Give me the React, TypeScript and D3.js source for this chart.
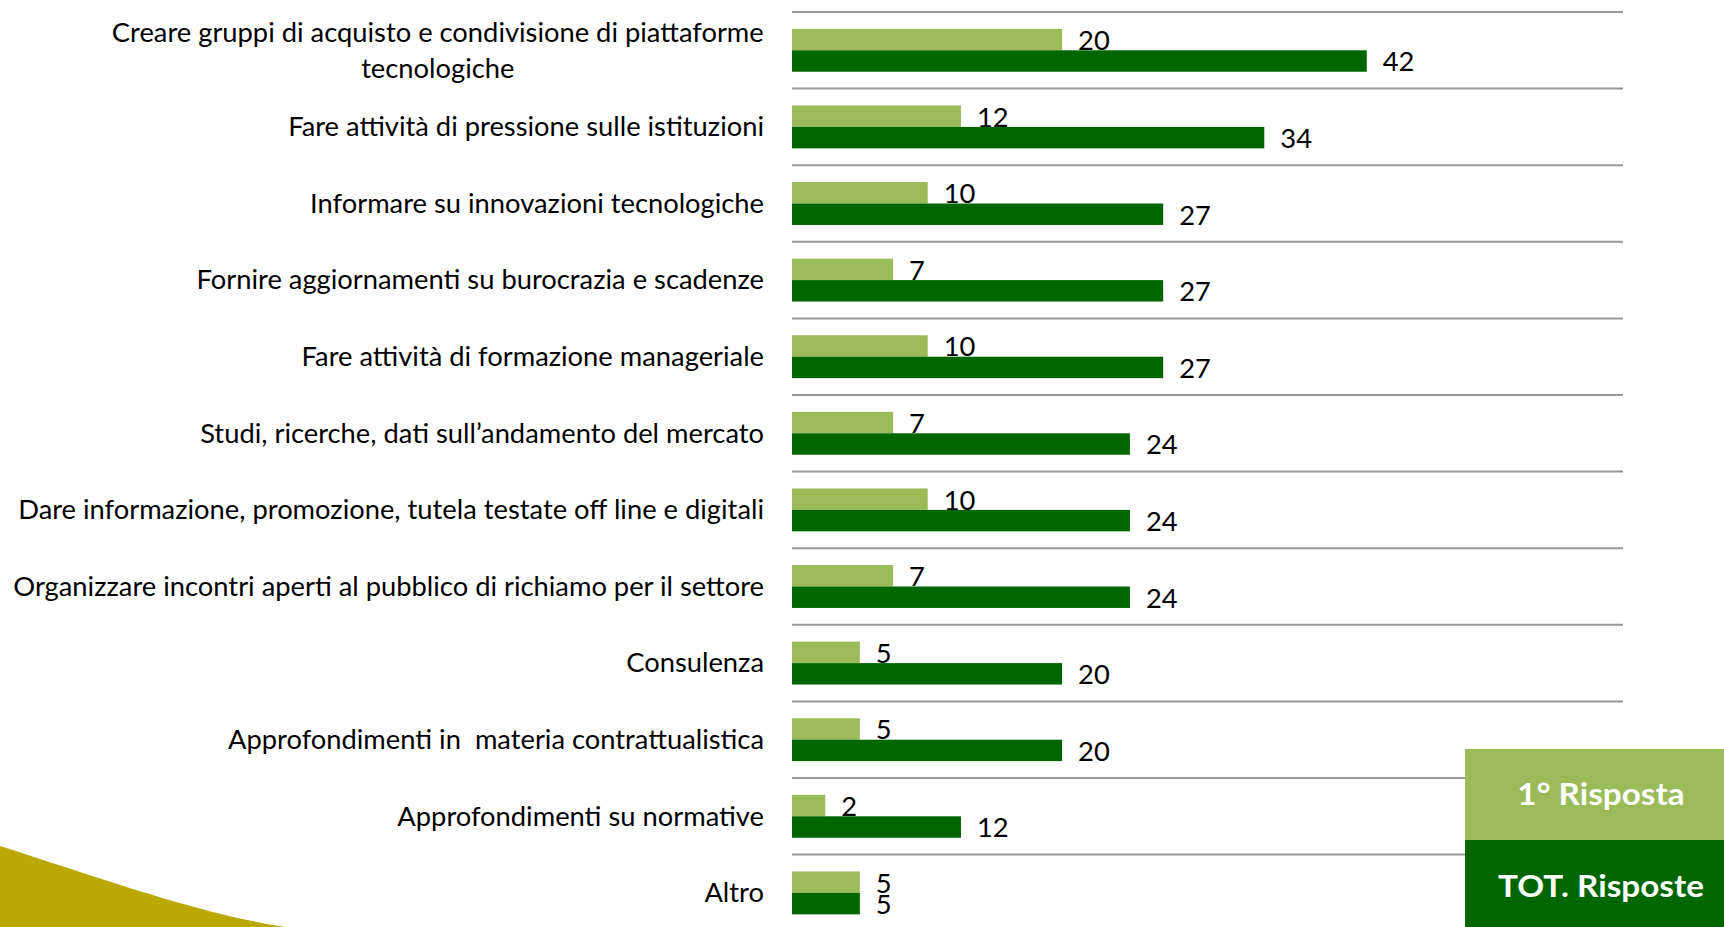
import React, { useEffect, useRef } from "react";
import * as d3 from "d3";

const categories: string[][] = [
  ["Creare gruppi di acquisto e condivisione di piattaforme", "tecnologiche"],
  ["Fare attività di pressione sulle istituzioni"],
  ["Informare su innovazioni tecnologiche"],
  ["Fornire aggiornamenti su burocrazia e scadenze"],
  ["Fare attività di formazione manageriale"],
  ["Studi, ricerche, dati sull’andamento del mercato"],
  ["Dare informazione, promozione, tutela testate off line e digitali"],
  ["Organizzare incontri aperti al pubblico di richiamo per il settore"],
  ["Consulenza"],
  ["Approfondimenti in  materia contrattualistica"],
  ["Approfondimenti su normative"],
  ["Altro"],
];

const firstAnswer: number[] = [19.5, 12.2, 9.8, 7.3, 9.8, 7.3, 9.8, 7.3, 4.9, 4.9, 2.4, 4.9];
const totalAnswers: number[] = [41.5, 34.1, 26.8, 26.8, 26.8, 24.4, 24.4, 24.4, 19.5, 19.5, 12.2, 4.9];

const seriesNames = ["1° Risposta", "TOT. Risposte"];
const seriesColors = ["#9BBB59", "#006600"];
const xDomainMax = 60;

const W = 1724;
const H = 927;
const FONT = "Lato, 'Open Sans', 'DejaVu Sans', sans-serif";

export default function App() {
  const ref = useRef<SVGSVGElement | null>(null);

  useEffect(() => {
    const svg = d3.select(ref.current);
    svg.selectAll("*").remove();

    const measure = (txt: string, size: number, weight: string) => {
      const p = svg
        .append("text")
        .attr("font-family", FONT)
        .attr("font-size", size)
        .attr("font-weight", weight)
        .style("white-space", "pre")
        .text(txt);
      const w = (p.node() as SVGTextElement).getComputedTextLength();
      p.remove();
      return w;
    };

    // calibrate horizontal condensing to mimic the reference (Calibri) widths
    const pw = measure("Approfondimenti su normative", 26, "normal");
    const fx = pw > 0 ? 367 / pw : 1;
    const pw2 = measure("TOT. Risposte", 30, "bold");
    const fxL = pw2 > 0 ? 206 / pw2 : 1;

    const keys = categories.map((_, i) => String(i));
    const x = d3.scaleLinear().domain([0, xDomainMax]).range([792, 1623]);
    const y = d3
      .scaleBand<string>()
      .domain(keys)
      .range([12, 12 + 76.6 * keys.length])
      .paddingInner(0.44)
      .paddingOuter(0.22);
    const ys = d3.scaleBand<string>().domain(["0", "1"]).range([0, y.bandwidth()]);
    const po = y.paddingOuter() * y.step();

    // decorative shape bottom-left
    svg
      .append("path")
      .attr("d", "M0,846 C100,878 200,914 285,927 L0,927 Z")
      .attr("fill", "#BBA800");

    // gridlines at top of each category band
    svg
      .append("g")
      .selectAll("line")
      .data(keys)
      .join("line")
      .attr("x1", x(0))
      .attr("x2", x(xDomainMax))
      .attr("y1", (k) => (y(k) as number) - po)
      .attr("y2", (k) => (y(k) as number) - po)
      .attr("stroke", "#999999")
      .attr("stroke-width", 2);

    const seriesData = [firstAnswer, totalAnswers];

    seriesData.forEach((vals, s) => {
      const g = svg.append("g");
      g.selectAll("rect")
        .data(vals)
        .join("rect")
        .attr("x", x(0))
        .attr("y", (_, i) => (y(keys[i]) as number) + (ys(String(s)) as number))
        .attr("width", (v) => x(v) - x(0))
        .attr("height", ys.bandwidth())
        .attr("fill", seriesColors[s]);

      g.selectAll("text")
        .data(vals)
        .join("text")
        .attr(
          "transform",
          (v, i) =>
            `translate(${x(v) + 16},${(y(keys[i]) as number) + (ys(String(s)) as number) + ys.bandwidth() / 2 + 1}) scale(${fx},1)`
        )
        .attr("dy", "0.36em")
        .attr("font-family", FONT)
        .attr("font-size", 26)
        .attr("fill", "#000")
        .text((v) => String(Math.round(v)));
    });

    // category labels (right aligned block; multi-line lines centred within block)
    const lg = svg.append("g");
    categories.forEach((lines, i) => {
      const cy = (y(keys[i]) as number) + y.bandwidth() / 2;
      const lh = 36;
      const blockW = Math.max(...lines.map((l) => measure(l, 26, "normal"))) * fx;
      lines.forEach((ln, j) => {
        const off = (j - (lines.length - 1) / 2) * lh;
        const multi = lines.length > 1;
        lg.append("text")
          .attr("transform", `translate(${multi ? 764 - blockW / 2 : 764},${cy + off}) scale(${fx},1)`)
          .attr("dy", "0.36em")
          .attr("text-anchor", multi ? "middle" : "end")
          .attr("font-family", FONT)
          .attr("font-size", 26)
          .attr("fill", "#000")
          .style("white-space", "pre")
          .text(ln);
      });
    });

    // legend
    const legY = [749, 840];
    const legH = [91, 87];
    seriesNames.forEach((name, s) => {
      svg
        .append("rect")
        .attr("x", 1465)
        .attr("y", legY[s])
        .attr("width", W - 1465)
        .attr("height", legH[s])
        .attr("fill", seriesColors[s]);
      svg
        .append("text")
        .attr("transform", `translate(1601,${legY[s] + (s === 0 ? 45 : 46)}) scale(${fxL},1)`)
        .attr("dy", "0.36em")
        .attr("text-anchor", "middle")
        .attr("font-family", FONT)
        .attr("font-size", 30)
        .attr("font-weight", "bold")
        .attr("fill", "#fff")
        .text(name);
    });
  }, []);

  return (
    <svg
      ref={ref}
      width={W}
      height={H}
      style={{ position: "absolute", left: 0, top: 0, background: "#fff" }}
    />
  );
}
